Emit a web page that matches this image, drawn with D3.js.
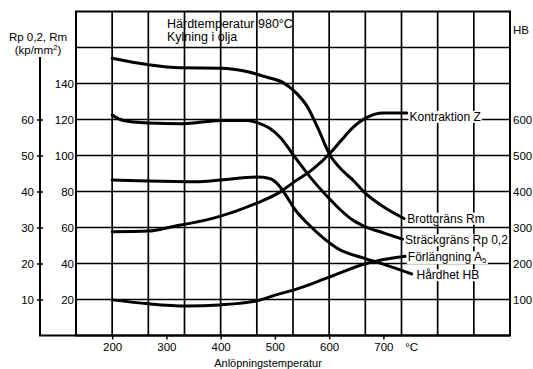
<!DOCTYPE html>
<html>
<head>
<meta charset="utf-8">
<script src="https://cdn.jsdelivr.net/npm/d3@7"></script>
<style>
  body { margin: 0; background: #fff; }
  svg { display: block; font-family: "Liberation Sans", Arial, sans-serif; }
  text { fill: #000; }
</style>
</head>
<body>
<div id="chart"></div>
<script>
// tempering curves, [temperature °C, value]
var rmData = [[200, 154], [265, 150.5], [325, 148.7], [400, 148.5], [450, 146.5], [485, 143.5],
    [515, 140.5], [540, 134.5], [560, 127], [578, 116], [602, 100], [625, 91.5], [645, 86],
    [665, 79.5], [700, 71.5], [738, 65]];
var rpData = [[200, 122.5], [215, 120], [240, 118.6], [267, 118], [330, 117.6], [400, 119.5],
    [450, 119.5], [470, 118], [491, 115], [510, 110], [537, 99], [565, 88], [602, 75.5],
    [620, 70], [644, 64], [666, 60.5], [700, 57], [735, 53.5]];
var hbData = [[200, 432], [267, 429], [355, 427], [400, 432], [467, 440], [490, 436],
    [510, 412], [523, 383], [537, 350], [559, 313], [589, 271], [614, 243], [668, 213],
    [694, 201], [752, 171]];
var zData = [[200, 28.8], [267, 29], [313, 30.3], [355, 31.5], [387, 32.6], [467, 36.8],
    [510, 39.9], [533, 42.4], [570, 46.2], [602, 50.7], [620, 53.8], [644, 57.8],
    [666, 60.3], [700, 61.8], [743, 61.8]];
var a5Data = [[200, 9.9], [267, 8.8], [337, 8.2], [398, 8.5], [466, 9.6], [502, 11.3],
    [534, 12.6], [600, 16.2], [668, 20], [740, 22]];

var tempTicks = [200, 300, 400, 500, 600, 700],
    kpTicks = [20, 40, 60, 80, 100, 120, 140],
    pctTicks = [10, 20, 30, 40, 50, 60],
    hbTicks = [100, 200, 300, 400, 500, 600];

var width = 533, height = 369,
    svg = d3.select('#chart').append('svg').attr('width', width).attr('height', height);

var x = d3.scaleLinear().domain([400 / 3, 2800 / 3]).range([76, 510]),
    yKp = d3.scaleLinear().domain([0, 180]).range([335.5, 11.5]),
    yPct = d3.scaleLinear().domain([0, 90]).range([335.5, 11.5]),
    yHB = d3.scaleLinear().domain([0, 900]).range([335.5, 11.5]);

// grid
svg.append('g')
    .selectAll('line')
    .data(d3.range(20, 180, 20))
    .enter().append('line')
    .attr('x1', 76).attr('x2', 510)
    .attr('y1', function (d) { return yKp(d); })
    .attr('y2', function (d) { return yKp(d); })
    .style('stroke', '#000').style('stroke-width', 1.7);
svg.append('g')
    .selectAll('line')
    .data(d3.range(1, 12).map(function (i) { return 400 / 3 + i * 200 / 3; }))
    .enter().append('line')
    .attr('x1', function (d) { return x(d); })
    .attr('x2', function (d) { return x(d); })
    .attr('y1', 11.5).attr('y2', 335.5)
    .style('stroke', '#000').style('stroke-width', 1.7);
svg.append('rect')
    .attr('x', 76).attr('y', 11.5).attr('width', 434).attr('height', 324)
    .style('fill', 'none').style('stroke', '#000').style('stroke-width', 2);

// outer left axis and base line
svg.append('line').attr('x1', 40).attr('x2', 40).attr('y1', 57).attr('y2', 335.5)
    .style('stroke', '#000').style('stroke-width', 2);
svg.append('line').attr('x1', 39).attr('x2', 510).attr('y1', 335.5).attr('y2', 335.5)
    .style('stroke', '#000').style('stroke-width', 2);

var pctAxis = svg.append('g').attr('transform', 'translate(43,0)')
    .call(d3.axisLeft(yPct).tickValues(pctTicks).tickSize(6).tickPadding(3));
var kpAxis = svg.append('g').attr('transform', 'translate(76,0)')
    .call(d3.axisLeft(yKp).tickValues(kpTicks).tickSize(0).tickPadding(2));
var hbAxis = svg.append('g').attr('transform', 'translate(510,0)')
    .call(d3.axisRight(yHB).tickValues(hbTicks).tickSize(0).tickPadding(3));
var tAxis = svg.append('g').attr('transform', 'translate(0,335.5)')
    .call(d3.axisBottom(x).tickValues(tempTicks).tickSize(4).tickPadding(3));

[pctAxis, kpAxis, hbAxis, tAxis].forEach(function (a) {
    a.select('.domain').remove();
    a.selectAll('line').style('stroke', '#000').style('stroke-width', 1.5);
    a.selectAll('text').style('font-size', '11.5px').style('font-family', null).style('fill', '#000');
});

// curves
var line = function (ys) {
    return d3.line()
        .x(function (d) { return x(d[0]); })
        .y(function (d) { return ys(d[1]); })
        .curve(d3.curveMonotoneX);
};
[[rmData, yKp], [rpData, yKp], [hbData, yHB], [zData, yPct], [a5Data, yPct]].forEach(function (s) {
    svg.append('path')
        .datum(s[0])
        .attr('d', line(s[1]))
        .style('fill', 'none')
        .style('stroke', '#000')
        .style('stroke-width', 3)
        .style('stroke-linecap', 'round');
});

// curve labels with white backing
function label(txt, tx, ty, sub) {
    var g = svg.append('g'),
        t = g.append('text').attr('x', tx).attr('y', ty).attr('dy', '0.35em')
            .style('font-size', '12px').text(txt),
        b;
    if (sub) {
        t.append('tspan').attr('dy', '2').style('font-size', '8px').text(sub);
    }
    b = t.node().getBBox();
    g.insert('rect', 'text')
        .attr('x', b.x - 1).attr('y', b.y + 1)
        .attr('width', b.width + 2).attr('height', b.height - 2)
        .style('fill', '#fff');
}
label('Kontraktion Z', x(748), yPct(60.8));
label('Brottgräns Rm', x(744), yKp(65));
label('Sträckgräns Rp 0,2', x(740), yKp(53));
label('Förlängning A', x(745), yPct(21.8), '5');
label('Hårdhet HB', x(761), yHB(168));

// texts
svg.append('text').attr('x', 167).attr('y', 28).style('font-size', '12.5px').text('Härdtemperatur 980°C');
svg.append('text').attr('x', 167).attr('y', 41).style('font-size', '12.5px').text('Kylning i olja');
svg.append('text').attr('x', 38).attr('y', 41).attr('text-anchor', 'middle')
    .style('font-size', '11.5px').text('Rp 0,2, Rm');
svg.append('text').attr('x', 38).attr('y', 54).attr('text-anchor', 'middle')
    .style('font-size', '11.5px').html('(kp/mm<tspan dy="-4" font-size="8px">2</tspan><tspan dy="4">)</tspan>');
svg.append('text').attr('x', 513).attr('y', 34).style('font-size', '11.5px').text('HB');
svg.append('text').attr('x', x(752)).attr('y', 351).attr('text-anchor', 'middle')
    .style('font-size', '11.5px').text('°C');
svg.append('text').attr('x', 268).attr('y', 367).attr('text-anchor', 'middle')
    .style('font-size', '11px').text('Anlöpningstemperatur');
</script>
</body>
</html>
